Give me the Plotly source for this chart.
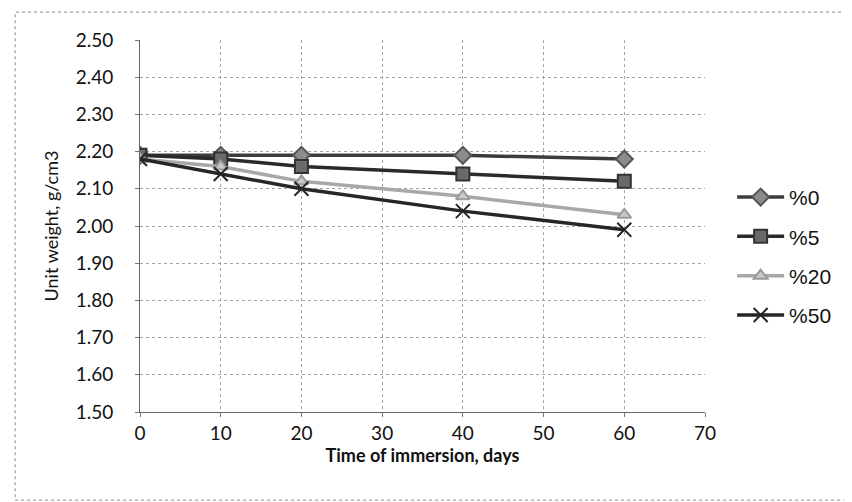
import plotly.graph_objects as go

days = [0, 10, 20, 40, 60]
s0 = [2.19, 2.19, 2.19, 2.19, 2.18]
s5 = [2.19, 2.18, 2.16, 2.14, 2.12]
s20 = [2.18, 2.16, 2.12, 2.08, 2.03]
s50 = [2.18, 2.14, 2.10, 2.04, 1.99]
names = ["%0", "%5", "%20", "%50"]
x_ticks = [0, 10, 20, 30, 40, 50, 60, 70]
y_ticks = [1.5, 1.6, 1.7, 1.8, 1.9, 2.0, 2.1, 2.2, 2.3, 2.4, 2.5]

styles = [
    dict(line="#3c3c3c", mcol="#8c8c8c", mline="#555555", sym="diamond", size=13),
    dict(line="#2a2a2a", mcol="#6a6a6a", mline="#333333", sym="square", size=13),
    dict(line="#a8a8a8", mcol="#c8c8c8", mline="#9a9a9a", sym="triangle-up", size=12),
    dict(line="#262626", mcol="#262626", mline="#262626", sym="x-thin", size=14),
]

fig = go.Figure()
for nm, ys, st in zip(names, [s0, s5, s20, s50], styles):
    fig.add_trace(go.Scatter(
        x=days, y=ys, name=nm, mode="lines+markers",
        legendgroup=nm,
        line=dict(color=st["line"], width=3.5),
        marker=dict(symbol=st["sym"], size=st["size"], color=st["mcol"],
                    line=dict(color=st["mline"], width=2)),
    ))

tick_font = dict(family="Lato, Liberation Sans, Arial", size=19, color="#111111")
fig.update_layout(
    width=852, height=502,
    margin=dict(l=132, r=155, t=32, b=98),
    paper_bgcolor="white", plot_bgcolor="white",
    font=dict(family="Lato, Liberation Sans, Arial", size=16, color="#111111"),
    showlegend=True,
    legend=dict(x=1.048, y=0.632, xanchor="left", yanchor="top",
                font=dict(family="Liberation Sans, Arial", size=21, color="#111111"),
                itemwidth=47, tracegroupgap=9, bgcolor="rgba(0,0,0,0)"),
    xaxis=dict(range=[0, 70], tickvals=x_ticks, ticks="outside", ticklen=4,
               tickcolor="#777777", showline=True, linecolor="#666666", linewidth=1,
               showgrid=True, gridcolor="#a5a5a5", griddash="dot", gridwidth=1,
               zeroline=False, tickfont=tick_font,
               title=dict(text="<b>Time of immersion, days</b>",
                          font=dict(family="Lato, Liberation Sans, Arial", size=18),
                          standoff=5)),
    yaxis=dict(range=[1.5, 2.5], tickvals=y_ticks, tickformat=".2f", ticks="outside",
               ticklen=4, tickcolor="#777777", showline=True, linecolor="#666666",
               linewidth=1, showgrid=True, gridcolor="#a5a5a5", griddash="dot",
               gridwidth=1, zeroline=False, tickfont=tick_font, ticklabelstandoff=18,
               title=dict(text="Unit weight, g/cm3",
                          font=dict(family="Lato, Liberation Sans, Arial", size=18),
                          standoff=12)),
)

fig.add_shape(type="rect", xref="paper", yref="paper",
              x0=-0.221, x1=1.262, y0=-0.237, y1=1.075,
              line=dict(color="#888888", width=1, dash="dot"), layer="below")

fig.write_html("out.html")
